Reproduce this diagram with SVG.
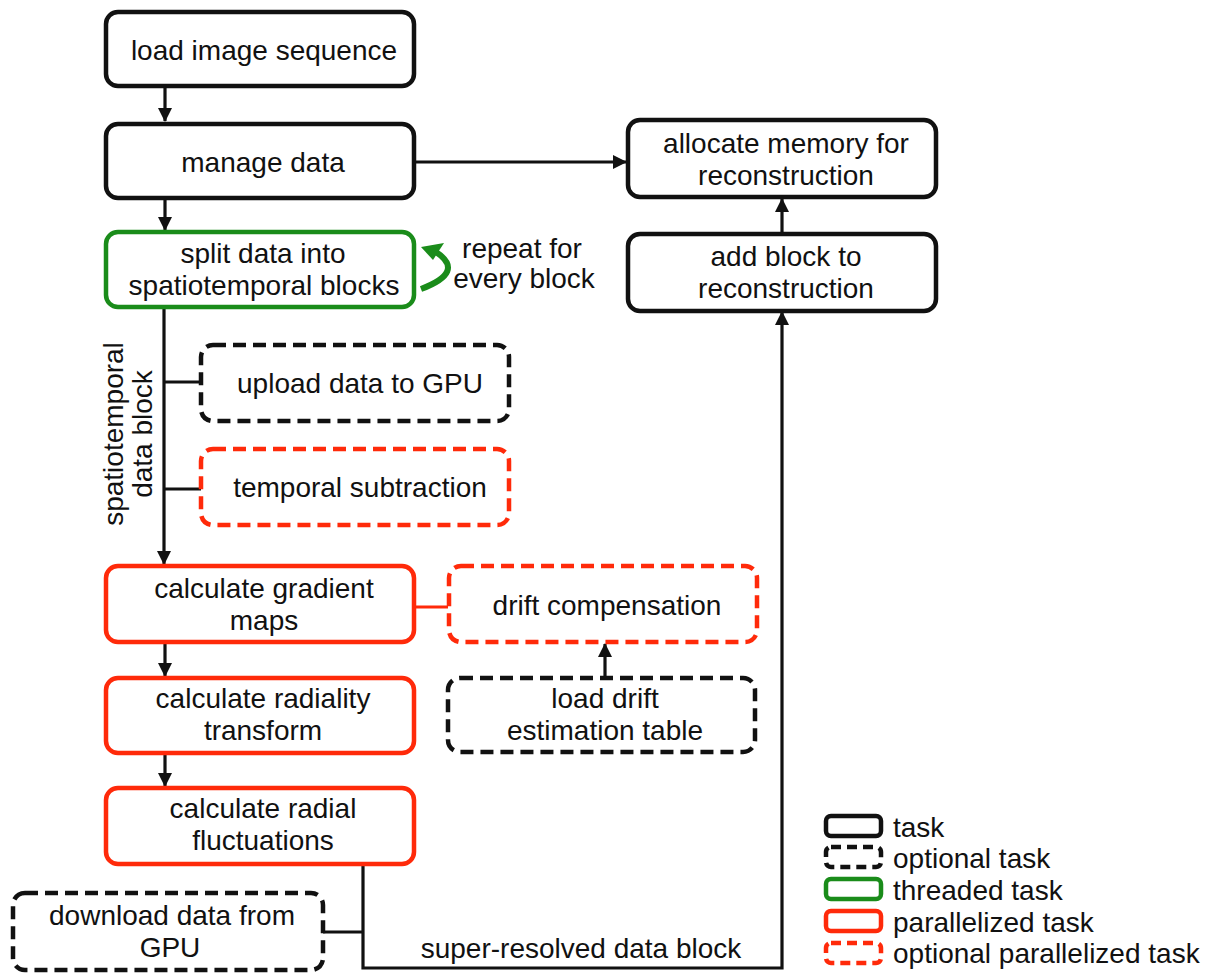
<svg xmlns="http://www.w3.org/2000/svg" width="1215" height="974" viewBox="0 0 1215 974">
<style>
.box{fill:#fff;stroke-width:4.5}
.k{stroke:#111}
.g{stroke:#1a8c1a}
.r{stroke:#ff2a0a}
.d{stroke-dasharray:13 7}
.t{font-family:"Liberation Sans",Arial,sans-serif;font-size:28px;fill:#111;text-anchor:middle}
.lt{font-family:"Liberation Sans",Arial,sans-serif;font-size:28px;fill:#111}
.c{fill:none;stroke:#111;stroke-width:3.2}
</style>
<defs>
<marker id="ah" markerWidth="14" markerHeight="14" refX="13" refY="7" orient="auto" markerUnits="userSpaceOnUse">
<path d="M0,0 L14,7 L0,14 z" fill="#111"/>
</marker>
</defs>
<rect width="1215" height="974" fill="#fff"/>
<g id="connectors">
<path class="c" d="M165 87 V121" marker-end="url(#ah)"/>
<path class="c" d="M165 198 V230" marker-end="url(#ah)"/>
<path class="c" d="M414 162 H626" marker-end="url(#ah)"/>
<path class="c" d="M164 308 V564" marker-end="url(#ah)"/>
<path class="c" d="M164 382 H201"/>
<path class="c" d="M164 489 H201"/>
<path d="M415 607 H448" fill="none" stroke="#ff2a0a" stroke-width="3.2"/>
<path class="c" d="M605 677 V644" marker-end="url(#ah)"/>
<path class="c" d="M165 643 V676" marker-end="url(#ah)"/>
<path class="c" d="M165 753 V786" marker-end="url(#ah)"/>
<path class="c" d="M782 233 V199" marker-end="url(#ah)"/>
<path class="c" d="M363 864 V968 H782 V312" marker-end="url(#ah)"/>
<path class="c" d="M323 932 H363"/>
<path d="M421 289 Q466 272 436 252" fill="none" stroke="#1a8c1a" stroke-width="6"/>
<path d="M421 247 L444 243 L433 260 z" fill="#1a8c1a"/>
<text class="t" x="522" y="258">repeat for</text>
<text class="t" x="524" y="288">every block</text>
<text class="t" transform="translate(123 434) rotate(-90)">spatiotemporal</text>
<text class="t" transform="translate(152 434) rotate(-90)">data block</text>
<text class="t" x="581" y="958">super-resolved data block</text>
</g>
<g id="load-image-sequence">
<rect class="box k" x="106" y="12" width="308" height="74" rx="12"/>
<text class="t" x="264" y="60">load image sequence</text>
</g>
<g id="manage-data">
<rect class="box k" x="106" y="124" width="308" height="74" rx="12"/>
<text class="t" x="263" y="172">manage data</text>
</g>
<g id="split-data">
<rect class="box g" x="106" y="232" width="308" height="75" rx="12"/>
<text class="t" x="263" y="263">split data into</text>
<text class="t" x="264" y="295">spatiotemporal blocks</text>
</g>
<g id="allocate-memory">
<rect class="box k" x="628" y="120" width="308" height="77" rx="12"/>
<text class="t" x="786" y="153">allocate memory for</text>
<text class="t" x="786" y="185">reconstruction</text>
</g>
<g id="add-block">
<rect class="box k" x="628" y="234" width="308" height="77" rx="12"/>
<text class="t" x="786" y="266">add block to</text>
<text class="t" x="786" y="298">reconstruction</text>
</g>
<g id="upload-data">
<rect class="box k d" x="201" y="345" width="308" height="76" rx="12"/>
<text class="t" x="360" y="393">upload data to GPU</text>
</g>
<g id="temporal-subtraction">
<rect class="box r d" x="201" y="449" width="308" height="76" rx="12"/>
<text class="t" x="360" y="497">temporal subtraction</text>
</g>
<g id="gradient-maps">
<rect class="box r" x="106" y="566" width="308" height="76" rx="12"/>
<text class="t" x="264" y="598">calculate gradient</text>
<text class="t" x="264" y="630">maps</text>
</g>
<g id="drift-compensation">
<rect class="box r d" x="449" y="566" width="308" height="76" rx="12"/>
<text class="t" x="607" y="615">drift compensation</text>
</g>
<g id="load-drift">
<rect class="box k d" x="448" y="678" width="307" height="74" rx="12"/>
<text class="t" x="605" y="708">load drift</text>
<text class="t" x="605" y="740">estimation table</text>
</g>
<g id="radiality-transform">
<rect class="box r" x="106" y="678" width="308" height="75" rx="12"/>
<text class="t" x="263" y="708">calculate radiality</text>
<text class="t" x="263" y="740">transform</text>
</g>
<g id="radial-fluctuations">
<rect class="box r" x="106" y="788" width="308" height="76" rx="12"/>
<text class="t" x="263" y="818">calculate radial</text>
<text class="t" x="263" y="850">fluctuations</text>
</g>
<g id="download-data">
<rect class="box k d" x="13" y="893" width="310" height="77" rx="12"/>
<text class="t" x="172" y="925">download data from</text>
<text class="t" x="170" y="957">GPU</text>
</g>
<g id="legend">
<rect class="box k" x="826" y="816" width="55" height="20" rx="5"/>
<text class="lt" x="893" y="837">task</text>
<rect class="box k" x="826" y="847" width="55" height="20" rx="5" style="stroke-dasharray:10 6"/>
<text class="lt" x="893" y="868">optional task</text>
<rect class="box g" x="826" y="879" width="55" height="20" rx="5"/>
<text class="lt" x="893" y="900">threaded task</text>
<rect class="box r" x="826" y="911" width="55" height="20" rx="5"/>
<text class="lt" x="893" y="932">parallelized task</text>
<rect class="box r" x="826" y="943" width="55" height="20" rx="5" style="stroke-dasharray:10 6"/>
<text class="lt" x="893" y="963">optional parallelized task</text>
</g>
</svg>
